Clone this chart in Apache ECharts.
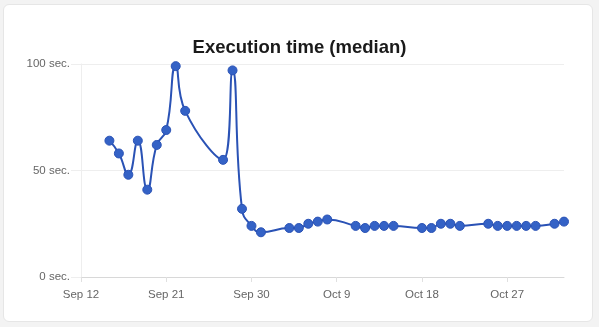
<!DOCTYPE html>
<html><head><meta charset="utf-8">
<script src="https://cdn.jsdelivr.net/npm/echarts@6/dist/echarts.min.js"></script>
<style>
html,body{margin:0;padding:0;background:#f3f3f3;width:599px;height:327px;overflow:hidden;font-family:"Liberation Sans",Arial,sans-serif}
#card{position:absolute;left:3px;top:4px;width:588px;height:316px;background:#fff;border:1px solid #e6e6e6;border-radius:6px}
#chart{position:absolute;left:0;top:0;width:599px;height:327px}
</style></head><body>
<div id="card"></div>
<div id="chart"></div>
<script>
const dates = ["2023-09-15","2023-09-16","2023-09-17","2023-09-18","2023-09-19","2023-09-20","2023-09-21","2023-09-22","2023-09-23","2023-09-27","2023-09-28","2023-09-29","2023-09-30","2023-10-01","2023-10-04","2023-10-05","2023-10-06","2023-10-07","2023-10-08","2023-10-11","2023-10-12","2023-10-13","2023-10-14","2023-10-15","2023-10-18","2023-10-19","2023-10-20","2023-10-21","2023-10-22","2023-10-25","2023-10-26","2023-10-27","2023-10-28","2023-10-29","2023-10-30","2023-11-01","2023-11-02"];
const medianSeconds = [64,58,48,64,41,62,69,99,78,55,97,32,24,21,23,23,25,26,27,24,23,24,24,24,23,23,25,25,24,25,24,24,24,24,24,25,26];
const yTicks = [0,50,100];
const xStart = "2023-09-12";
const xEnd = "2023-11-02";
const DAY = 86400000;
const months = ["Jan","Feb","Mar","Apr","May","Jun","Jul","Aug","Sep","Oct","Nov","Dec"];
const ts = d => Date.parse(d + "T00:00:00Z");
const chart = echarts.init(document.getElementById('chart'), null, {renderer:'canvas'});
chart.setOption({
  backgroundColor: 'transparent',
  animation: false,
  title: {text: 'Execution time (median)', left: 'center', top: 33,
    textStyle: {fontSize: 18.5, fontWeight: 'bold', color: '#1a1a1a', fontFamily: '"Liberation Sans",Arial,sans-serif'}},
  grid: {left: 81, right: 35, top: 64, bottom: 50},
  xAxis: {type: 'value', min: ts(xStart), max: ts(xEnd), interval: 9*DAY,
    axisLine: {show: true, lineStyle: {color: '#d8d8d8'}},
    axisTick: {show: true, length: 5, lineStyle: {color: '#e0e0e0'}},
    splitLine: {show: false},
    axisLabel: {color: '#666', fontSize: 11.5, margin: 12, showMaxLabel: false,
      fontFamily: '"Liberation Sans",Arial,sans-serif',
      formatter: v => { const d = new Date(v); return months[d.getUTCMonth()] + ' ' + d.getUTCDate(); }}},
  yAxis: {type: 'value', min: yTicks[0], max: yTicks[yTicks.length-1], interval: 50,
    axisLine: {show: true, lineStyle: {color: '#eeeeee'}},
    axisTick: {show: true, length: 10, inside: false, lineStyle: {color: '#eeeeee'}},
    splitLine: {show: true, lineStyle: {color: '#eeeeee'}},
    axisLabel: {color: '#666', fontSize: 11.5, margin: 11, fontFamily: '"Liberation Sans",Arial,sans-serif',
      formatter: v => v + ' sec.'}},
  series: [{type: 'line', smooth: 0.5, data: dates.map((d,i) => [ts(d), medianSeconds[i]]),
    symbol: 'circle', symbolSize: 9,
    lineStyle: {color: '#2a52b5', width: 2},
    itemStyle: {color: '#3462c6', borderColor: '#2a52b5', borderWidth: 1}}]
});
</script></body></html>
